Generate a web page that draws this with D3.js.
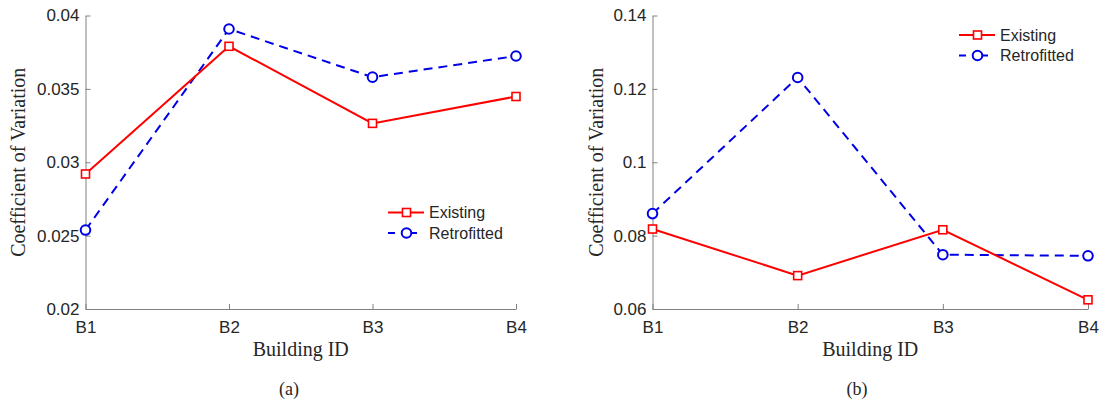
<!DOCTYPE html>
<html lang="en">
<head>
<meta charset="UTF-8" />
<title>Coefficient of Variation</title>
<script src="https://d3js.org/d3.v7.js"></script>
<style>
  body { margin: 0; background: #fff; }
  svg { display: block; }
</style>
</head>
<body>
<div id="chart"></div>
<script>
const buildings = ["B1", "B2", "B3", "B4"];
const seriesNames = ["Existing", "Retrofitted"];

// panel (a)
const existingA = [0.0292, 0.0379, 0.03265, 0.03448];
const retrofitA = [0.02538, 0.03908, 0.0358, 0.03724];
const ticksA = [0.02, 0.025, 0.03, 0.035, 0.04];

// panel (b)
const existingB = [0.0818, 0.0691, 0.0816, 0.0625];
const retrofitB = [0.086, 0.1231, 0.0748, 0.0745];
const ticksB = [0.06, 0.08, 0.1, 0.12, 0.14];

const W = 1099, H = 406;
const svg = d3.select("#chart").append("svg")
  .attr("width", W).attr("height", H);

const red = "#ff0000", blue = "#0000e6";
const axisColor = "#808080", textColor = "#262626";
const sans = "'Liberation Sans', Arial, sans-serif";
const serif = "'Liberation Serif', 'DejaVu Serif', serif";

const panels = [
  { left: 85.5, right: 516, ymin: 0.02, ymax: 0.04, ticks: ticksA, fmt: d => String(+d.toFixed(3)),
    ex: existingA, re: retrofitA, caption: "(a)", capX: 289, titleX: 19,
    legend: { x: 388, y: 212.5 } },
  { left: 652.5, right: 1088, ymin: 0.06, ymax: 0.14, ticks: ticksB, fmt: d => String(+d.toFixed(2)),
    ex: existingB, re: retrofitB, caption: "(b)", capX: 857, titleX: 597,
    legend: { x: 959, y: 35 } }
];

const plotTop = 15.5, plotBottom = 309;

panels.forEach(p => {
  const x = d3.scalePoint().domain(buildings).range([p.left, p.right]);
  const y = d3.scaleLinear().domain([p.ymin, p.ymax]).range([plotBottom, plotTop]);
  const g = svg.append("g");

  // y axis (ticks inward)
  const ya = g.append("g")
    .attr("transform", `translate(${p.left},0)`)
    .call(d3.axisLeft(y).tickValues(p.ticks).tickFormat(p.fmt).tickSizeInner(-5).tickSizeOuter(0).tickPadding(6));
  ya.select(".domain").attr("stroke", axisColor);
  ya.selectAll(".tick line").attr("stroke", axisColor);
  ya.selectAll(".tick text").attr("fill", textColor)
    .style("font-family", sans).style("font-size", "17px");

  // x axis
  const xa = g.append("g")
    .attr("transform", `translate(0,${plotBottom})`)
    .call(d3.axisBottom(x).tickSizeInner(-5).tickSizeOuter(0).tickPadding(12));
  xa.select(".domain").attr("stroke", axisColor);
  xa.selectAll(".tick line").attr("stroke", axisColor);
  xa.selectAll(".tick text").attr("fill", textColor)
    .style("font-family", sans).style("font-size", "17px");

  // axis titles
  g.append("text")
    .attr("x", (p.left + p.right) / 2).attr("y", 356)
    .attr("text-anchor", "middle").attr("fill", textColor)
    .style("font-family", serif).style("font-size", "20px")
    .text("Building ID");
  g.append("text")
    .attr("transform", `translate(${p.titleX + 6},${(plotTop + plotBottom) / 2}) rotate(-90)`)
    .attr("text-anchor", "middle").attr("fill", textColor)
    .style("font-family", serif).style("font-size", "20px")
    .text("Coefficient of Variation");

  // caption
  g.append("text")
    .attr("x", p.capX).attr("y", 395)
    .attr("text-anchor", "middle").attr("fill", textColor)
    .style("font-family", serif).style("font-size", "18px")
    .text(p.caption);

  const line = d3.line().x((d, i) => x(buildings[i])).y(d => y(d));

  // Retrofitted
  g.append("path").datum(p.re)
    .attr("d", line).attr("fill", "none").attr("stroke", blue)
    .attr("stroke-width", 2).attr("stroke-dasharray", "9,6");
  g.selectAll(".re").data(p.re).join("circle")
    .attr("cx", (d, i) => x(buildings[i])).attr("cy", d => y(d)).attr("r", 4.8)
    .attr("fill", "white").attr("stroke", blue).attr("stroke-width", 2);

  // Existing
  g.append("path").datum(p.ex)
    .attr("d", line).attr("fill", "none").attr("stroke", red).attr("stroke-width", 2);
  g.selectAll(".ex").data(p.ex).join("rect")
    .attr("x", (d, i) => x(buildings[i]) - 4).attr("y", d => y(d) - 4)
    .attr("width", 8).attr("height", 8)
    .attr("fill", "white").attr("stroke", red).attr("stroke-width", 1.6);

  // legend
  const lg = g.append("g").attr("transform", `translate(${p.legend.x},${p.legend.y})`);
  seriesNames.forEach((name, i) => {
    const row = lg.append("g").attr("transform", `translate(0,${i * 20.5})`);
    const col = i === 0 ? red : blue;
    if (i === 0) {
      row.append("line").attr("x1", 0).attr("x2", 36).attr("y1", 0).attr("y2", 0)
        .attr("stroke", col).attr("stroke-width", 2);
      row.append("rect").attr("x", 14.5).attr("y", -4).attr("width", 8).attr("height", 8)
        .attr("fill", "white").attr("stroke", col).attr("stroke-width", 1.6);
    } else {
      row.append("line").attr("x1", 0).attr("x2", 7).attr("y1", 0).attr("y2", 0)
        .attr("stroke", col).attr("stroke-width", 2);
      row.append("line").attr("x1", 22).attr("x2", 29).attr("y1", 0).attr("y2", 0)
        .attr("stroke", col).attr("stroke-width", 2);
      row.append("circle").attr("cx", 18.5).attr("cy", 0).attr("r", 4.8)
        .attr("fill", "white").attr("stroke", col).attr("stroke-width", 2);
    }
    row.append("text").attr("x", 41).attr("y", 0).attr("dy", "0.35em")
      .attr("fill", textColor)
      .style("font-family", sans).style("font-size", "16px")
      .text(name);
  });
});
</script>
</body>
</html>
